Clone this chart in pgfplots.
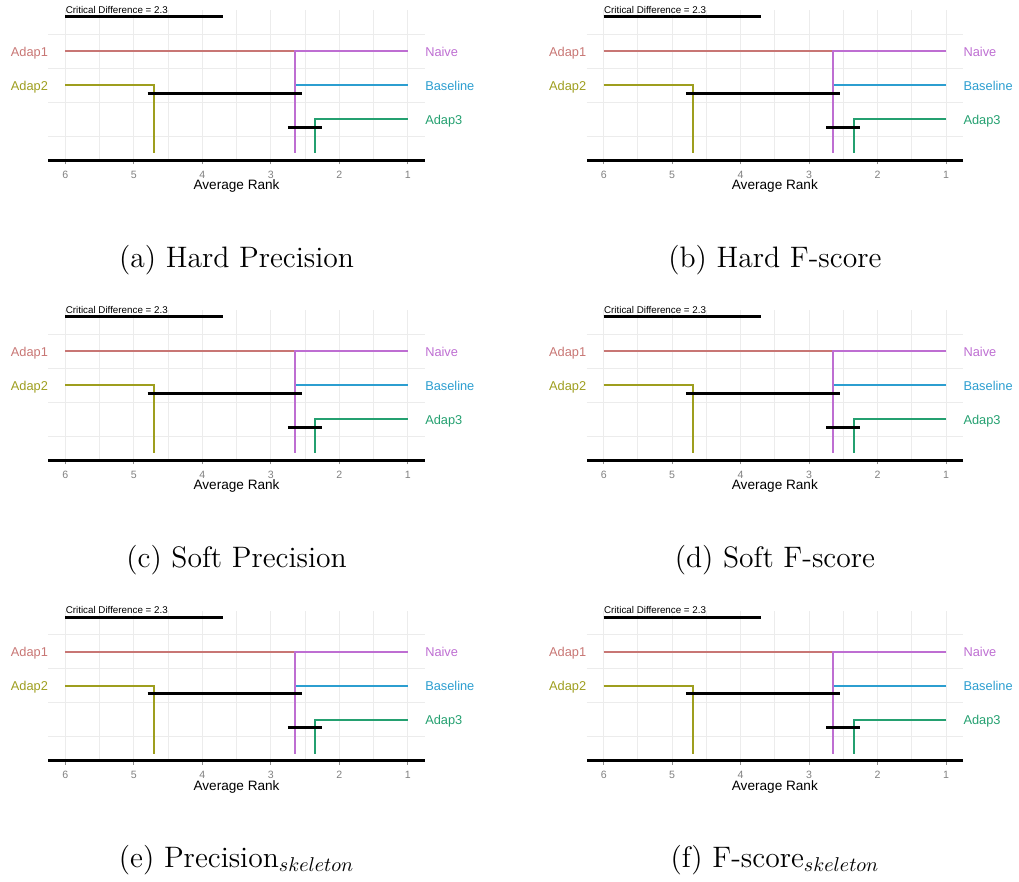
\documentclass[border=0pt]{standalone}
\usepackage{pgfplots}
\pgfplotsset{compat=1.18}
\usepackage{fontspec}
\newfontfamily\chartfont{Liberation Sans}
\definecolor{cA}{RGB}{200,118,116}
\definecolor{cB}{RGB}{158,158,30}
\definecolor{cC}{RGB}{36,160,112}
\definecolor{cD}{RGB}{44,158,208}
\definecolor{cE}{RGB}{190,110,210}
\definecolor{gridc}{RGB}{236,236,236}
\newcommand\lblfont{\chartfont\fontsize{6.4}{7}\selectfont}
\newcommand\cdpanel[3]{%
\begin{axis}[
  at={(#1pt,#2pt)}, anchor=south west,
  x=34.235pt, y=0.5pt, x dir=reverse,
  xmin=0.75, xmax=6.25, ymin=0, ymax=150,
  axis x line=bottom, axis y line=none,
  x axis line style={-, line width=1.5pt, black},
  xtick={1,2,3,4,5,6}, minor xtick={1.5,2.5,3.5,4.5,5.5},
  xmajorgrids, xminorgrids,
  major grid style={gridc, line width=0.5pt},
  minor grid style={gridc, line width=0.5pt},
  tick align=outside, major tick length=2pt, minor tick length=0pt,
  xtick style={black!45, line width=0.5pt},
  xticklabel style={font=\chartfont\fontsize{5.3}{6}\selectfont, text=black!50},
  /pgf/number format/assume math mode=true,
  clip=false,
]
\draw[gridc, line width=0.5pt] (axis cs:6.25,24) -- (axis cs:0.75,24);
\draw[gridc, line width=0.5pt] (axis cs:6.25,58) -- (axis cs:0.75,58);
\draw[gridc, line width=0.5pt] (axis cs:6.25,92) -- (axis cs:0.75,92);
\draw[gridc, line width=0.5pt] (axis cs:6.25,126) -- (axis cs:0.75,126);
\addplot[draw=cA, line width=1pt, mark=none] coordinates {(6,109) (2.65,109) (2.65,7)};
\addplot[draw=cB, line width=1pt, mark=none] coordinates {(6,75) (4.7,75) (4.7,7)};
\addplot[draw=cC, line width=1pt, mark=none] coordinates {(1,41) (2.35,41) (2.35,7)};
\addplot[draw=cD, line width=1pt, mark=none] coordinates {(1,75) (2.65,75) (2.65,7)};
\addplot[draw=cE, line width=1pt, mark=none] coordinates {(1,109) (2.65,109) (2.65,7)};
\addplot[draw=black, line width=1.5pt, mark=none] coordinates {(4.8,67) (2.55,67)};
\addplot[draw=black, line width=1.5pt, mark=none] coordinates {(2.75,33) (2.25,33)};
\addplot[draw=black, line width=1.5pt, mark=none] coordinates {(6,143.5) (3.7,143.5)};
\node[anchor=base west, inner sep=0pt, font=\chartfont\fontsize{4.9}{5}\selectfont] at (axis cs:6,147) {Critical Difference = 2.3};
\node[anchor=base east, inner sep=0pt, text=cA, font=\lblfont] at (axis cs:6.25,104) {Adap1};
\node[anchor=base east, inner sep=0pt, text=cB, font=\lblfont] at (axis cs:6.25,70) {Adap2};
\node[anchor=base west, inner sep=0pt, text=cE, font=\lblfont] at (axis cs:0.75,104) {Naive};
\node[anchor=base west, inner sep=0pt, text=cD, font=\lblfont] at (axis cs:0.75,70) {Baseline};
\node[anchor=base west, inner sep=0pt, text=cC, font=\lblfont] at (axis cs:0.75,36) {Adap3};
\node[anchor=base, inner sep=0pt, font=\chartfont\fontsize{6.8}{8}\selectfont] at (axis cs:3.5,-29.5) {Average Rank};
\node[anchor=base, inner sep=0pt, font=\fontsize{14.8}{17}\selectfont] at (axis cs:3.5,-107) {#3};
\end{axis}}
\begin{document}
\begin{tikzpicture}
\useasboundingbox (0pt,0pt) rectangle (509.5pt,-441pt);
\cdpanel{24.15}{-80.25}{(a) Hard Precision}
\cdpanel{293.3}{-80.25}{(b) Hard F-score}
\cdpanel{24.15}{-230.25}{(c) Soft Precision}
\cdpanel{293.3}{-230.25}{(d) Soft F-score}
\cdpanel{24.15}{-380.25}{(e) Precision$_{skeleton}$}
\cdpanel{293.3}{-380.25}{(f) F-score$_{skeleton}$}
\end{tikzpicture}
\end{document}
